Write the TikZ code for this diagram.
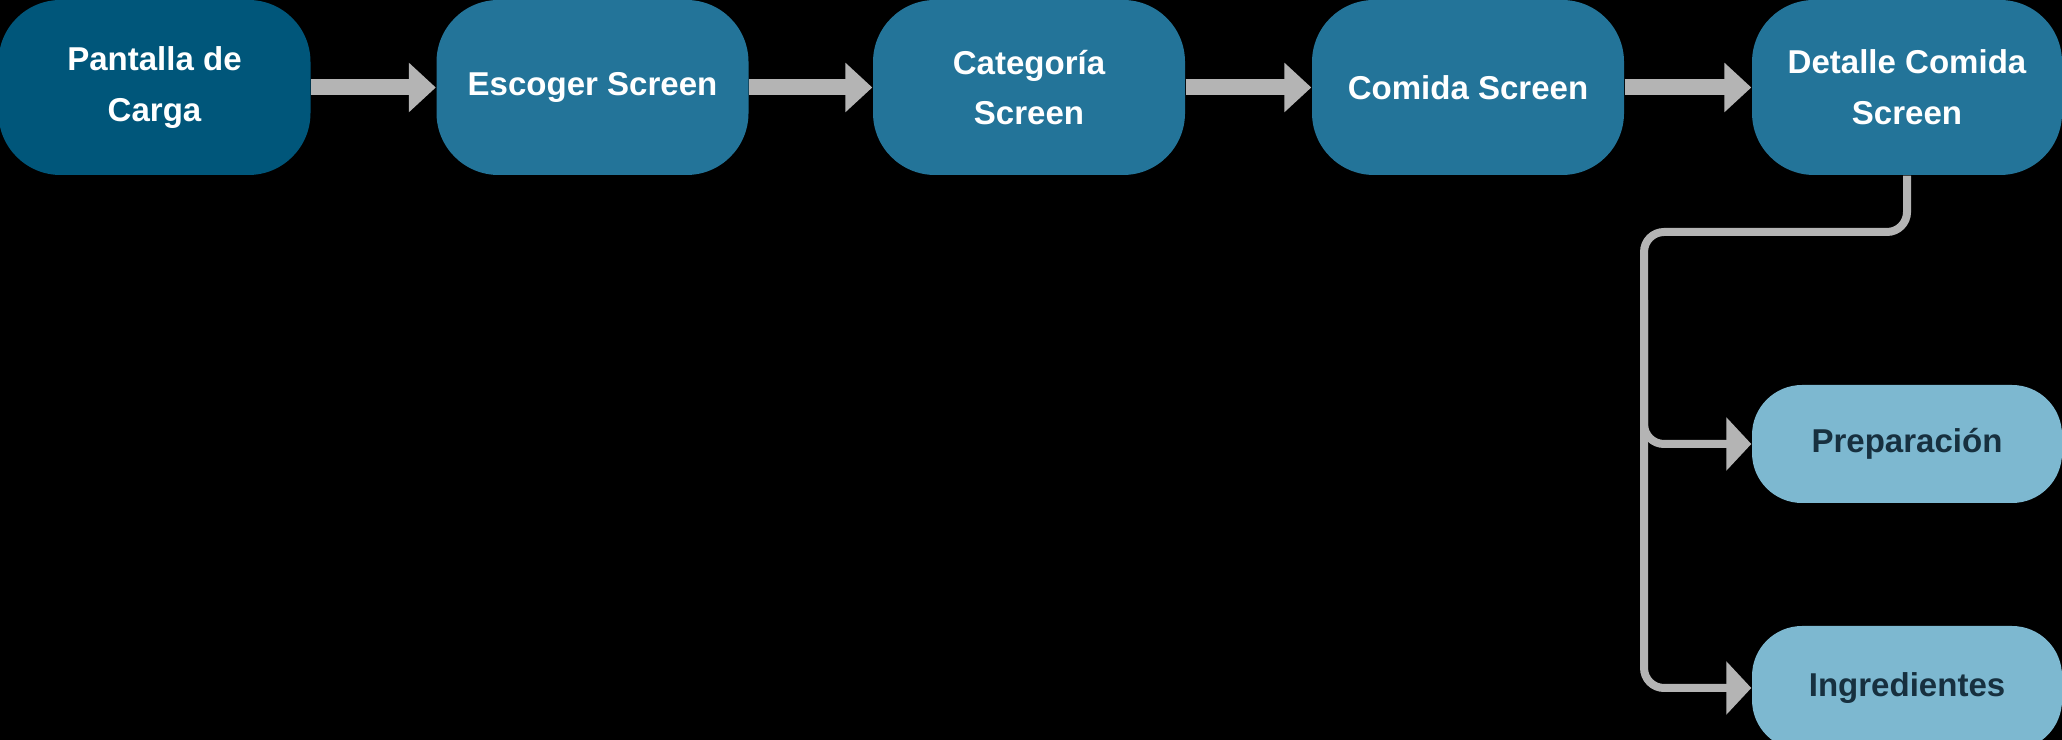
\documentclass[tikz,border=0pt]{standalone}
\usepackage{fontspec}
\setmainfont{Liberation Sans}
\usetikzlibrary{arrows.meta}
\usetikzlibrary{positioning}
\definecolor{screen-dark}{RGB}{0, 86, 122}
\definecolor{screen-blue}{RGB}{35, 116, 153}
\definecolor{screen-light}{RGB}{125, 184, 208}
\definecolor{label-dark}{RGB}{23, 48, 63}
\definecolor{link-gray}{RGB}{180, 180, 180}

\tikzset{
  screen/.style={fill=screen-blue, text=white, rounded corners=0.62cm,
    minimum width=3.12cm, minimum height=1.75cm, align=center,
    font=\bfseries\fontsize{9.4}{14.4}\selectfont, inner sep=0pt},
  tab/.style={screen, fill=screen-light, text=label-dark, rounded corners=0.5cm,
    minimum width=3.1cm, minimum height=1.18cm},
  flow/.style={draw=link-gray, line width=0.16cm,
    -{Triangle[length=0.27cm, width=0.48cm]}},
  branch/.style={draw=link-gray, line width=0.08cm, rounded corners=0.2cm,
    -{Triangle[length=0.25cm, width=0.52cm]}}
}

\begin{document}
\begin{tikzpicture}
\fill[black] (0,0) rectangle (20.62,-7.40);
\useasboundingbox (0,0) rectangle (20.62,-7.40);

\node[screen, fill=screen-dark] (carga) at (1.545,-0.875) {Pantalla de\\Carga};
\node[screen] (escoger) at (5.925,-0.875) {Escoger Screen};
\node[screen] (categoria) at (10.29,-0.875) {Categoría\\Screen};
\node[screen] (comida) at (14.68,-0.875) {Comida Screen};
\node[screen, minimum width=3.1cm] (detalle) at (19.07,-0.875) {Detalle Comida\\Screen};

\node[tab] (prep) at (19.07,-4.44) {Preparación};
\node[tab, minimum height=1.24cm] (ingr) at (19.07,-6.88) {Ingredientes};

\draw[flow] (carga) -- (escoger);
\draw[flow] (escoger) -- (categoria);
\draw[flow] (categoria) -- (comida);
\draw[flow] (comida) -- (detalle);

\coordinate (split) at (16.44,-2.32);
\coordinate (trunk) at (16.44,-3.00);
\draw[branch] (detalle.south) -- (detalle.south |- split) -- (split) -- (split |- prep) -- (prep.west);
\draw[branch] (trunk) -- (trunk |- ingr) -- (ingr.west);

\end{tikzpicture}
\end{document}
